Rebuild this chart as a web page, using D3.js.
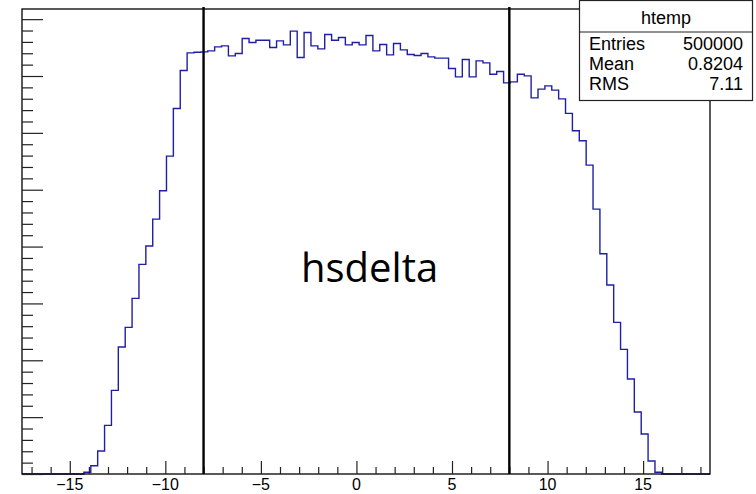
<!DOCTYPE html>
<html>
<head>
<meta charset="utf-8">
<script src="https://cdn.jsdelivr.net/npm/d3@7"></script>
<style>
    body { margin: 0; background: #fff; }
    svg { display: block; }
</style>
</head>
<body>
<div class="hist-chart"></div>
<script>
// histogram range and bins (100 bins like root default)
const xMin = -17.5;
const xMax = 18.5;
const nBins = 100;

// bin contents, bin 0 .. bin 99
const binCounts = [
    0, 0, 0, 0, 0, 0, 0, 0, 0, 30,
    146, 404, 856, 1471, 2233, 2579, 3089, 3687, 4009, 4483,
    4981, 5591, 6429, 7098, 7407, 7419, 7425, 7442, 7512, 7530,
    7354, 7396, 7660, 7590, 7630, 7630, 7502, 7618, 7548, 7789,
    7326, 7766, 7530, 7477, 7730, 7630, 7678, 7548, 7590, 7548,
    7713, 7442, 7555, 7372, 7572, 7460, 7379, 7361, 7396, 7337,
    7314, 7314, 7133, 6985, 7291, 6985, 7266, 7231, 7032, 7080,
    6880, 6897, 7032, 7003, 6616, 6769, 6827, 6751, 6598, 6342,
    6036, 5860, 5433, 4659, 3873, 3323, 2667, 2192, 1670, 1090,
    703, 229, 30, 0, 0, 0, 0, 0, 0, 0
];

// tick labels on the x axis
const xTickValues = [-15, -10, -5, 0, 5, 10, 15];
const xTickLabels = ["\u221215", "\u221210", "\u22125", "0", "5", "10", "15"];

// cut lines drawn over the histogram
const cutLines = [-8, 8];

// stats box
const statsTitle = "htemp";
const statsNames = ["Entries", "Mean", "RMS"];
const statsValues = ["500000", "0.8204", "7.11"];

const annotation = "hsdelta";

const width = 756;
const height = 494;
const frame = {left: 22, right: 710, top: 9, bottom: 474};

const svg = d3.select(".hist-chart")
    .append("svg")
    .attr("width", width)
    .attr("height", height);

const binWidth = (xMax - xMin) / nBins;
const bins = binCounts.map((c, i) => ({x0: xMin + i * binWidth, x1: xMin + (i + 1) * binWidth, n: c}));

const xScale = d3.scaleLinear().domain([xMin, xMax]).range([frame.left, frame.right]);
// root puts the top of the frame at 1.05 * max bin
const yScale = d3.scaleLinear().domain([0, d3.max(binCounts) * 1.05]).range([frame.bottom, frame.top]);

// histogram outline as a step path
const stepPoints = [[bins[0].x0, 0]];
bins.forEach(b => {
    stepPoints.push([b.x0, b.n]);
    stepPoints.push([b.x1, b.n]);
});
stepPoints.push([bins[bins.length - 1].x1, 0]);

const histLine = d3.line()
    .x(d => xScale(d[0]))
    .y(d => yScale(d[1]));

svg.append("path")
    .datum(stepPoints)
    .attr("fill", "none")
    .attr("stroke", "#1f1fa5")
    .attr("stroke-width", 1.4)
    .attr("d", histLine);

// frame
svg.append("rect")
    .attr("x", frame.left)
    .attr("y", frame.top)
    .attr("width", frame.right - frame.left)
    .attr("height", frame.bottom - frame.top)
    .attr("fill", "none")
    .attr("stroke", "#000")
    .attr("stroke-width", 1.3);

// x axis ticks point up into the frame
const xMinor = d3.range(-17, 19, 1).filter(v => v % 5 !== 0);
svg.append("g")
    .attr("transform", `translate(0,${frame.bottom})`)
    .call(d3.axisTop(xScale).tickValues(xMinor).tickSize(7).tickFormat(""))
    .call(g => g.select(".domain").remove());

svg.append("g")
    .attr("transform", `translate(0,${frame.bottom})`)
    .call(d3.axisTop(xScale).tickValues(xTickValues).tickSize(13).tickFormat(""))
    .call(g => g.select(".domain").remove());

// labels sit right at the bottom edge of the picture
svg.append("g")
    .selectAll("text")
    .data(xTickValues)
    .join("text")
    .attr("x", d => xScale(d))
    .attr("y", 490)
    .attr("text-anchor", "middle")
    .attr("font-family", "Liberation Sans, Arial, sans-serif")
    .attr("font-size", 16)
    .attr("fill", "#000")
    .text((d, i) => xTickLabels[i]);

// y axis ticks point right, labels are cut off in the picture
const yMax = yScale.domain()[1];
const yMajor = d3.range(0, yMax, 1000);
const yMinor = d3.range(0, yMax, 200).filter(v => v % 1000 !== 0);

svg.append("g")
    .attr("transform", `translate(${frame.left},0)`)
    .call(d3.axisRight(yScale).tickValues(yMinor).tickSize(11).tickFormat(""))
    .call(g => g.select(".domain").remove());

svg.append("g")
    .attr("transform", `translate(${frame.left},0)`)
    .call(d3.axisRight(yScale).tickValues(yMajor).tickSize(21).tickFormat(""))
    .call(g => g.select(".domain").remove());

svg.selectAll(".tick line").attr("stroke", "#222").attr("stroke-width", 1.2);

// the two black cut lines
svg.selectAll(".cut-line")
    .data(cutLines)
    .join("line")
    .attr("class", "cut-line")
    .attr("x1", d => xScale(d))
    .attr("x2", d => xScale(d))
    .attr("y1", 7)
    .attr("y2", frame.bottom)
    .attr("stroke", "#000")
    .attr("stroke-width", 2.4);

// stats box top right
const box = {x: 579.5, y: 0.5, w: 173, h: 100};
const stats = svg.append("g");
stats.append("rect")
    .attr("x", box.x)
    .attr("y", box.y)
    .attr("width", box.w)
    .attr("height", box.h)
    .attr("fill", "#fff")
    .attr("stroke", "#222")
    .attr("stroke-width", 1.2);

stats.append("line")
    .attr("x1", box.x)
    .attr("x2", box.x + box.w)
    .attr("y1", 32)
    .attr("y2", 32)
    .attr("stroke", "#222")
    .attr("stroke-width", 1.2);

stats.append("text")
    .attr("x", box.x + box.w / 2)
    .attr("y", 24)
    .attr("text-anchor", "middle")
    .attr("font-family", "Liberation Sans, Arial, sans-serif")
    .attr("font-size", 18)
    .text(statsTitle);

stats.selectAll(".stat-name")
    .data(statsNames)
    .join("text")
    .attr("class", "stat-name")
    .attr("x", 589)
    .attr("y", (d, i) => 50 + i * 20)
    .attr("font-family", "Liberation Sans, Arial, sans-serif")
    .attr("font-size", 18)
    .text(d => d);

stats.selectAll(".stat-value")
    .data(statsValues)
    .join("text")
    .attr("class", "stat-value")
    .attr("x", 743)
    .attr("y", (d, i) => 50 + i * 20)
    .attr("text-anchor", "end")
    .attr("font-family", "Liberation Sans, Arial, sans-serif")
    .attr("font-size", 18)
    .text(d => d);

// big label in the middle of the plot
svg.append("text")
    .attr("x", 301)
    .attr("y", 282)
    .attr("font-family", "Open Sans, Noto Sans, sans-serif")
    .attr("font-size", 40)
    .attr("fill", "#000")
    .text(annotation);
</script>
</body>
</html>
